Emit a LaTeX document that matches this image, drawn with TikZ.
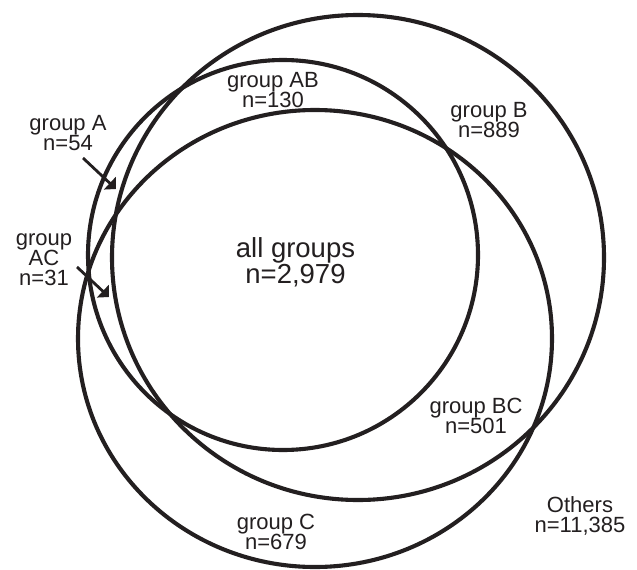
\documentclass[tikz,border=0pt]{standalone}
\usepackage{fontspec}
\setmainfont{Liberation Sans}
\usetikzlibrary{arrows.meta}
\definecolor{ink}{RGB}{35,31,32}
\begin{document}
\begin{tikzpicture}[x=1pt,y=-1pt,
  ring/.style={draw=ink,line width=4.1pt},
  lbl/.style={align=center,inner sep=0pt,anchor=base,text=ink,font=\fontsize{22}{20}\selectfont},
  biglbl/.style={lbl,font=\fontsize{27.5}{25.5}\selectfont},
  pointer/.style={draw=ink,line width=2.8pt,-{Triangle[length=8.5pt,width=17pt]}}]
\useasboundingbox[fill=white] (0,0) rectangle (637,570);
% circles
\path[ring] (283,255) circle[radius=195];                       % A
\path[ring] (358,257.5) circle[x radius=246,y radius=242.5];    % B
\path[ring] (315,338.5) circle[x radius=237,y radius=228.5];    % C
% labels (anchor = baseline of the last line)
\node[lbl] (lA) at (68,150) {group A\\n=54};
\node[lbl] (lAC) at (44,285) {group\\AC\\n=31};
\node[lbl] (lAB) at (273,107) {group AB\\n=130};
\node[lbl] (lB) at (489,137) {group B\\n=889};
\node[biglbl] (lall) at (295.5,283) {all groups\\n=2,979};
\node[lbl] (lBC) at (476,433) {group BC\\n=501};
\node[lbl] (lC) at (276,549.5) {group C\\n=679};
\node[lbl] (lO) at (580,532) {Others\\n=11,385};
% pointers
\coordinate (pAs) at (83,158);
\coordinate (pAe) at (116,189);
\coordinate (pACs) at (77,267);
\coordinate (pACe) at (109,297);
\draw[pointer] (pAs) -- (pAe);
\draw[pointer] (pACs) -- (pACe);
\end{tikzpicture}
\end{document}
